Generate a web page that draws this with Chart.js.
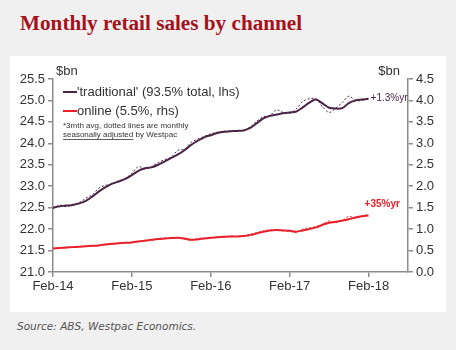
<!DOCTYPE html>
<html>
<head>
<meta charset="utf-8">
<script src="https://cdn.jsdelivr.net/npm/chart.js@4.4.1/dist/chart.umd.min.js"></script>
<style>
  body { margin: 0; background: #f0f0f0; width: 456px; height: 350px; overflow: hidden; position: relative; }
  #title { position: absolute; left: 20px; top: 11px; font-family: "Liberation Serif", "DejaVu Serif", serif; font-weight: bold; font-size: 21.2px; color: #a6121b; white-space: nowrap; }
  #panel { position: absolute; left: 10px; top: 56px; width: 436px; height: 256px; background: #fff; }
  #source { position: absolute; left: 17px; top: 320px; font-family: "DejaVu Sans", sans-serif; font-style: italic; font-size: 10.5px; color: #555; white-space: nowrap; }
</style>
</head>
<body>
<div id="title">Monthly retail sales by channel</div>
<div id="panel"><canvas id="chart" width="436" height="256"></canvas></div>
<div id="source">Source: ABS, Westpac Economics.</div>
<script>
// months since Feb-14 (0 = Feb-14 ... 48 = Feb-18), axis runs to Aug-18
const xTickLabels = ['Feb-14', 'Feb-15', 'Feb-16', 'Feb-17', 'Feb-18'];
const leftTicks = [21.0, 21.5, 22.0, 22.5, 23.0, 23.5, 24.0, 24.5, 25.0, 25.5];
const rightTicks = [0.0, 0.5, 1.0, 1.5, 2.0, 2.5, 3.0, 3.5, 4.0, 4.5];

// 'traditional' $bn, 3mth avg (lhs)
const traditionalAvg = [
  22.50, 22.53, 22.55, 22.56, 22.60, 22.66, 22.76, 22.88, 22.98, 23.06, 23.11, 23.17,
  23.26, 23.36, 23.42, 23.44, 23.50, 23.58, 23.66, 23.74, 23.84, 23.96, 24.06, 24.14,
  24.19, 24.24, 24.27, 24.28, 24.29, 24.30, 24.36, 24.47, 24.58, 24.64, 24.67, 24.70,
  24.72, 24.74, 24.84, 24.95, 25.02, 24.93, 24.83, 24.81, 24.82, 24.94, 25.00, 25.02,
  25.04
];
// 'traditional' $bn, monthly (dotted)
const traditionalMonthly = [
  22.48, 22.56, 22.52, 22.58, 22.62, 22.72, 22.80, 22.96, 23.02, 23.05, 23.12, 23.18,
  23.30, 23.46, 23.40, 23.46, 23.55, 23.62, 23.68, 23.84, 23.86, 24.02, 24.10, 24.16,
  24.22, 24.26, 24.28, 24.29, 24.30, 24.30, 24.38, 24.52, 24.62, 24.65, 24.78, 24.72,
  24.70, 24.80, 24.98, 25.04, 25.04, 24.85, 24.72, 24.82, 24.95, 25.10, 25.00, 25.00,
  25.06
];
// online $bn, 3mth avg (rhs)
const onlineAvg = [
  0.55, 0.56, 0.57, 0.58, 0.59, 0.60, 0.61, 0.62, 0.64, 0.66, 0.67, 0.68,
  0.69, 0.71, 0.73, 0.75, 0.77, 0.78, 0.79, 0.80, 0.78, 0.75, 0.76, 0.78,
  0.80, 0.81, 0.82, 0.83, 0.83, 0.84, 0.86, 0.90, 0.94, 0.97, 0.98, 0.97,
  0.96, 0.94, 0.97, 1.00, 1.04, 1.10, 1.15, 1.17, 1.20, 1.23, 1.27, 1.30,
  1.32
];
// online $bn, monthly (dotted)
const onlineMonthly = [
  0.55, 0.57, 0.56, 0.59, 0.58, 0.61, 0.60, 0.63, 0.65, 0.65, 0.68, 0.68,
  0.70, 0.72, 0.74, 0.74, 0.78, 0.79, 0.78, 0.80, 0.76, 0.74, 0.78, 0.79,
  0.80, 0.82, 0.81, 0.84, 0.83, 0.85, 0.88, 0.92, 0.96, 0.98, 0.97, 0.96,
  0.95, 0.92, 1.00, 1.03, 1.06, 1.12, 1.19, 1.15, 1.20, 1.30, 1.25, 1.31,
  1.34
];

const colors = {
  traditional: '#4a2444',
  online: '#e8202a',
  axis: '#8c8c8c',
  text: '#333333'
};

const toPoints = arr => arr.map((v, i) => ({ x: i, y: v }));

// legend, notes and end labels drawn on top of the chart
const overlayPlugin = {
  id: 'overlay',
  afterDraw(chart) {
    const ctx = chart.ctx;
    const xs = chart.scales.x, yl = chart.scales.yLeft, yr = chart.scales.yRight;
    const area = chart.chartArea;
    ctx.save();
    ctx.textBaseline = 'middle';

    ctx.font = '13px "Liberation Sans", Arial, sans-serif';
    ctx.fillStyle = colors.text;
    ctx.textAlign = 'left';
    ctx.fillText('$bn', area.left + 3, area.top - 8);
    ctx.textAlign = 'right';
    ctx.fillText('$bn', area.right - 8, area.top - 8);

    // legend
    const lx = area.left + 10;
    const items = [
      { label: "'traditional' (93.5% total, lhs)", color: colors.traditional, y: area.top + 13 },
      { label: 'online (5.5%, rhs)', color: colors.online, y: area.top + 32 }
    ];
    items.forEach(it => {
      ctx.strokeStyle = it.color;
      ctx.lineWidth = 2;
      ctx.beginPath();
      ctx.moveTo(lx, it.y);
      ctx.lineTo(lx + 14, it.y);
      ctx.stroke();
      ctx.fillStyle = colors.text;
      ctx.textAlign = 'left';
      ctx.font = '13px "Liberation Sans", Arial, sans-serif';
      ctx.fillText(it.label, lx + 14, it.y);
    });

    // note
    ctx.font = '8px "Liberation Sans", Arial, sans-serif';
    ctx.fillStyle = colors.text;
    ctx.fillText('*3mth avg, dotted lines are monthly', lx, area.top + 47);
    const ny = area.top + 56;
    const part1 = 'seasonally adjusted';
    ctx.fillText(part1, lx, ny);
    const w1 = ctx.measureText(part1).width;
    ctx.fillText(' by Westpac', lx + w1, ny);
    ctx.strokeStyle = colors.text;
    ctx.lineWidth = 0.8;
    ctx.beginPath();
    ctx.moveTo(lx, ny + 4.5);
    ctx.lineTo(lx + w1, ny + 4.5);
    ctx.stroke();

    // end-of-line labels
    const last = traditionalAvg.length - 1;
    ctx.font = '10px "Liberation Sans", Arial, sans-serif';
    ctx.fillStyle = colors.traditional;
    ctx.fillText('+1.3%yr', xs.getPixelForValue(last) + 2, yl.getPixelForValue(traditionalAvg[last]));
    ctx.font = 'bold 10px "Liberation Sans", Arial, sans-serif';
    ctx.fillStyle = colors.online;
    ctx.fillText('+35%yr', xs.getPixelForValue(last) - 4, yr.getPixelForValue(onlineAvg[last]) - 11);
    ctx.restore();
  }
};

const tickFont = { family: '"Liberation Sans", Arial, sans-serif', size: 13 };

new Chart(document.getElementById('chart'), {
  type: 'line',
  data: {
    datasets: [
      {
        label: 'traditional monthly',
        data: toPoints(traditionalMonthly),
        yAxisID: 'yLeft',
        borderColor: colors.traditional,
        borderWidth: 1,
        borderDash: [2, 2],
        pointRadius: 0,
        tension: 0.3
      },
      {
        label: "'traditional' (93.5% total, lhs)",
        data: toPoints(traditionalAvg),
        yAxisID: 'yLeft',
        borderColor: colors.traditional,
        borderWidth: 2,
        pointRadius: 0,
        tension: 0.3
      },
      {
        label: 'online monthly',
        data: toPoints(onlineMonthly),
        yAxisID: 'yRight',
        borderColor: colors.online,
        borderWidth: 1,
        borderDash: [2, 2],
        pointRadius: 0,
        tension: 0.3
      },
      {
        label: 'online (5.5%, rhs)',
        data: toPoints(onlineAvg),
        yAxisID: 'yRight',
        borderColor: colors.online,
        borderWidth: 2,
        pointRadius: 0,
        tension: 0.3
      }
    ]
  },
  options: {
    responsive: false,
    animation: false,
    layout: { padding: { top: 23, left: 0, right: 0, bottom: 0 } },
    plugins: { legend: { display: false }, tooltip: { enabled: false } },
    scales: {
      x: {
        type: 'linear',
        min: 0,
        max: 54,
        afterFit: axis => { axis.height = 40; },
        afterBuildTicks: axis => { axis.ticks = xTickLabels.map((l, i) => ({ value: i * 12 })); },
        ticks: {
          color: colors.text,
          font: tickFont,
          padding: 2,
          maxRotation: 0,
          callback: v => xTickLabels[v / 12]
        },
        grid: { drawOnChartArea: false, drawTicks: true, tickLength: 5, color: colors.axis, lineWidth: 1.5 },
        border: { display: true, color: colors.axis, width: 1.5 }
      },
      yLeft: {
        position: 'left',
        min: 21,
        max: 25.5,
        afterFit: axis => { axis.width = 43; },
        afterBuildTicks: axis => { axis.ticks = leftTicks.map(v => ({ value: v })); },
        ticks: { color: colors.text, font: tickFont, padding: 3, callback: v => v.toFixed(1) },
        grid: { drawOnChartArea: false, drawTicks: true, tickLength: 5, color: colors.axis, lineWidth: 1.5 },
        border: { display: true, color: colors.axis, width: 1.5 }
      },
      yRight: {
        position: 'right',
        min: 0,
        max: 4.5,
        afterFit: axis => { axis.width = 38; },
        afterBuildTicks: axis => { axis.ticks = rightTicks.map(v => ({ value: v })); },
        ticks: { color: colors.text, font: tickFont, padding: 3, callback: v => v.toFixed(1) },
        grid: { drawOnChartArea: false, drawTicks: true, tickLength: 5, color: colors.axis, lineWidth: 1.5 },
        border: { display: true, color: colors.axis, width: 1.5 }
      }
    }
  },
  plugins: [overlayPlugin]
});
</script>
</body>
</html>
